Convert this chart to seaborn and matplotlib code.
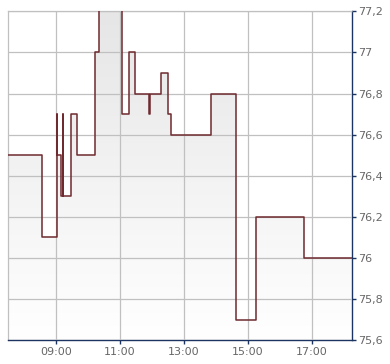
import numpy as np
import pandas as pd
import matplotlib
matplotlib.use("Agg")
import matplotlib.pyplot as plt
import matplotlib.dates as mdates
from matplotlib.ticker import FuncFormatter, MultipleLocator
import seaborn as sns

times = ["07:30", "08:34", "09:01", "09:02", "09:10", "09:13", "09:14", "09:29",
         "09:40", "10:14", "10:21", "11:04", "11:17", "11:29", "11:55", "11:57",
         "12:17", "12:31", "12:36", "13:50", "14:38", "15:16", "16:46", "18:16"]
prices = [76.5, 76.1, 76.7, 76.5, 76.3, 76.7, 76.3, 76.7,
          76.5, 77.0, 77.3, 76.7, 77.0, 76.8, 76.7, 76.8,
          76.9, 76.7, 76.6, 76.8, 75.7, 76.2, 76.0, 76.0]
tick_times = ["09:00", "11:00", "13:00", "15:00", "17:00"]

df = pd.DataFrame({"time": pd.to_datetime(["2024-01-02 " + t for t in times]),
                   "price": prices})

sns.set_style("white")
plt.rcParams["font.family"] = ["DejaVu Sans"]

fig = plt.figure(figsize=(3.9, 3.64), dpi=100)
ax = fig.add_axes([8 / 390, 1 - 340.3 / 364, (352.3 - 8) / 390, (340.3 - 11.3) / 364])

ymin, ymax = 75.6, 77.2
xmin = df["time"].iloc[0]
xmax = df["time"].iloc[-1]

# gradient fill under step line
fb = ax.fill_between(df["time"], df["price"], ymin, step="post", color="none", zorder=1)
grad = np.linspace(0, 1, 256).reshape(-1, 1)
cmap = matplotlib.colors.LinearSegmentedColormap.from_list("g", ["#e6e6e6", "#ffffff"])
im = ax.imshow(grad, aspect="auto", cmap=cmap, origin="upper",
               extent=[mdates.date2num(xmin), mdates.date2num(xmax), ymin, ymax], zorder=1)
path = fb.get_paths()[0]
im.set_clip_path(path, transform=ax.transData)

sns.lineplot(data=df, x="time", y="price", drawstyle="steps-post", color="#6e2a2e",
             linewidth=1.1, ax=ax, zorder=3)

ax.set_xlim(xmin, xmax)
ax.set_ylim(ymin, ymax)
ax.set_xlabel("")
ax.set_ylabel("")

ax.xaxis.set_major_locator(mdates.HourLocator(byhour=[9, 11, 13, 15, 17]))
ax.xaxis.set_major_formatter(mdates.DateFormatter("%H:%M"))
ax.yaxis.set_major_locator(MultipleLocator(0.2))
ax.yaxis.set_major_formatter(FuncFormatter(lambda v, p: (f"{v:.1f}".rstrip("0").rstrip(".")).replace(".", ",")))
ax.yaxis.tick_right()

ax.set_axisbelow(False)
ax.grid(True, color="#c0c0c0", linewidth=0.9, zorder=2)
for gl in ax.get_xgridlines() + ax.get_ygridlines():
    gl.set_zorder(2)

navy = "#1c3461"
for s in ["left", "top"]:
    ax.spines[s].set_color("#c0c0c0")
    ax.spines[s].set_linewidth(0.9)
for s in ["right", "bottom"]:
    ax.spines[s].set_color(navy)
    ax.spines[s].set_linewidth(1.0)

ax.tick_params(axis="x", bottom=True, length=3, width=1, color=navy, labelsize=8,
               labelcolor="#666666", pad=2)
ax.tick_params(axis="y", right=True, left=False, length=3, width=1, color=navy,
               labelsize=8, labelcolor="#666666", pad=1)

fig.savefig("out.png", dpi=100)
